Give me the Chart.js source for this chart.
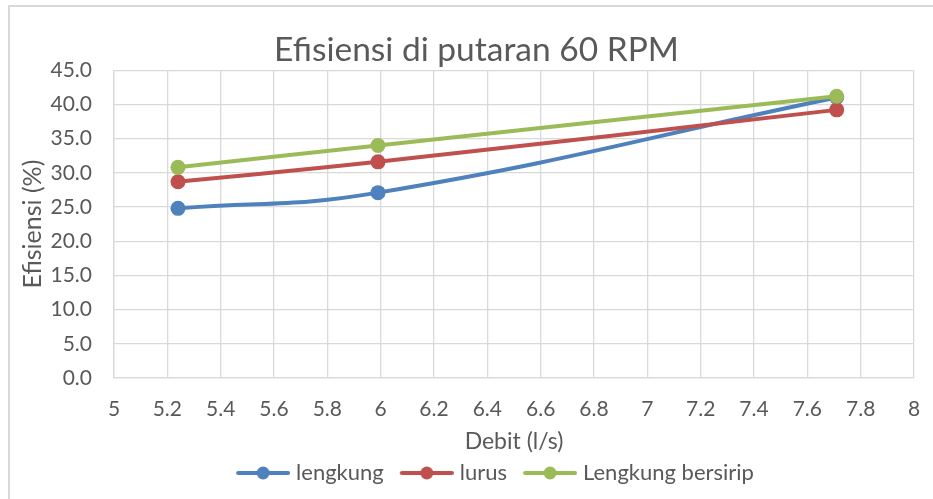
<!DOCTYPE html>
<html>
<head>
<meta charset="utf-8">
<title>Efisiensi di putaran 60 RPM</title>
<script src="https://cdn.jsdelivr.net/npm/chart.js@4/dist/chart.umd.min.js"></script>
<style>
  html, body { margin: 0; padding: 0; background: #ffffff; overflow: hidden; }
  #wrap { position: relative; width: 933px; height: 499px; overflow: hidden; }
  #frame { position: absolute; left: 8px; top: 5px; width: 1000px; height: 600px;
           border: 2px solid #d9d9d9; box-sizing: border-box; }
  #chart { position: absolute; left: 0; top: 0; }
</style>
</head>
<body>
<div id="wrap">
  <div id="frame"></div>
  <canvas id="chart" width="933" height="499"></canvas>
</div>
<script>
// Debit (l/s) at which each efficiency was measured
const debit = [5.24, 5.99, 7.71];

// Efficiency (%) per blade type
const lengkung = [24.8, 27.1, 41.0];
const lurus = [28.7, 31.6, 39.2];
const lengkungBersirip = [30.8, 34.0, 41.2];

const seriesNames = ['lengkung', 'lurus', 'Lengkung bersirip'];
const seriesColors = ['#4f81bd', '#c0504d', '#9bbb59'];

// Axis ticks
const xTickValues = [5, 5.2, 5.4, 5.6, 5.8, 6, 6.2, 6.4, 6.6, 6.8, 7, 7.2, 7.4, 7.6, 7.8, 8];
const xTickLabels = ['5', '5.2', '5.4', '5.6', '5.8', '6', '6.2', '6.4', '6.6', '6.8', '7', '7.2', '7.4', '7.6', '7.8', '8'];
const yTickValues = [0, 5, 10, 15, 20, 25, 30, 35, 40, 45];
const yTickLabels = ['0.0', '5.0', '10.0', '15.0', '20.0', '25.0', '30.0', '35.0', '40.0', '45.0'];

const TEXT = '#595959';
const GRID = '#d9d9d9';
const FONT = 'Lato';

// Legend marker: a short line with a dot in the middle, offset so the
// visible part sits 10px into the legend box.
function legendMarker(color) {
  const c = document.createElement('canvas');
  c.width = 69; c.height = 16;
  const g = c.getContext('2d');
  g.strokeStyle = color;
  g.lineWidth = 4;
  g.lineCap = 'round';
  g.beginPath();
  g.moveTo(17, 8); g.lineTo(67, 8);
  g.stroke();
  g.fillStyle = color;
  g.beginPath();
  g.arc(42, 8, 6.5, 0, Math.PI * 2);
  g.fill();
  return c;
}

function toPoints(ys) {
  return debit.map((x, i) => ({ x: x, y: ys[i] }));
}

// Nudges the title and legend sideways after layout.
const boxShift = {
  id: 'boxShift',
  afterLayout(chart) {
    const t = chart.titleBlock;
    if (t) { t.left += 13.5; t.right += 13.5; }
    const l = chart.legend;
    if (l) { l.left += 27; l.right += 27; }
  }
};

function build() {
  const allSeries = [lengkung, lurus, lengkungBersirip];
  const markers = seriesColors.map(legendMarker);

  const datasets = allSeries.map((ys, i) => ({
    label: seriesNames[i],
    data: toPoints(ys),
    borderColor: seriesColors[i],
    backgroundColor: seriesColors[i],
    borderWidth: 4,
    pointRadius: 7.5,
    pointHoverRadius: 7.5,
    pointBorderWidth: 0,
    pointBackgroundColor: seriesColors[i],
    tension: 0.45,
    showLine: true,
    fill: false,
    order: allSeries.length - i
  }));

  new Chart(document.getElementById('chart'), {
    type: 'scatter',
    data: { datasets: datasets },
    plugins: [boxShift],
    options: {
      responsive: false,
      animation: false,
      devicePixelRatio: 1,
      layout: { padding: { left: 12, right: 19, top: 0, bottom: 5 } },
      plugins: {
        tooltip: { enabled: false },
        title: {
          display: true,
          text: 'Efisiensi di putaran 60 RPM',
          color: TEXT,
          font: { family: FONT, size: 33.5, weight: 'normal', lineHeight: 1.2 },
          padding: { top: 30, bottom: 0 }
        },
        legend: {
          display: true,
          position: 'bottom',
          labels: {
            color: TEXT,
            font: { family: FONT, size: 22 },
            usePointStyle: true,
            pointStyleWidth: 59,
            padding: 6,
            generateLabels: () => seriesNames.map((name, i) => ({
              text: name,
              fillStyle: seriesColors[i],
              strokeStyle: seriesColors[i],
              lineWidth: 0,
              pointStyle: markers[i],
              fontColor: TEXT,
              hidden: false,
              datasetIndex: i
            }))
          }
        }
      },
      scales: {
        x: {
          type: 'linear',
          min: 5,
          max: 8,
          afterBuildTicks: s => { s.ticks = xTickValues.map(v => ({ value: v })); },
          afterFit: s => { s.height = 78; },
          ticks: {
            color: TEXT,
            font: { family: FONT, size: 21 },
            padding: 0,
            maxRotation: 0,
            autoSkip: false,
            callback: (v, i) => xTickLabels[i]
          },
          grid: { color: GRID, lineWidth: 1.3, drawTicks: true, tickLength: 19, tickColor: 'rgba(0,0,0,0)' },
          border: { color: GRID, width: 1.3 },
          title: {
            display: true,
            text: 'Debit (l/s)',
            color: TEXT,
            font: { family: FONT, size: 23, lineHeight: 1.2 },
            padding: { top: 0, bottom: 1 }
          }
        },
        y: {
          type: 'linear',
          min: 0,
          max: 45,
          afterBuildTicks: s => { s.ticks = yTickValues.map(v => ({ value: v })); },
          afterFit: s => { s.width = 102; },
          ticks: {
            color: TEXT,
            font: { family: FONT, size: 21 },
            padding: 22,
            autoSkip: false,
            callback: (v, i) => yTickLabels[i]
          },
          grid: { color: GRID, lineWidth: 1.3, drawTicks: false },
          border: { color: GRID, width: 1.3 },
          title: {
            display: true,
            text: 'Efisiensi (%)',
            color: TEXT,
            font: { family: FONT, size: 25, lineHeight: 1.2 },
            padding: { top: 6, bottom: 0 }
          }
        }
      }
    }
  });
}

if (document.fonts && document.fonts.load) {
  Promise.all([
    document.fonts.load('33px Lato'),
    document.fonts.load('21px Lato')
  ]).then(build, build);
} else {
  build();
}
</script>
</body>
</html>
